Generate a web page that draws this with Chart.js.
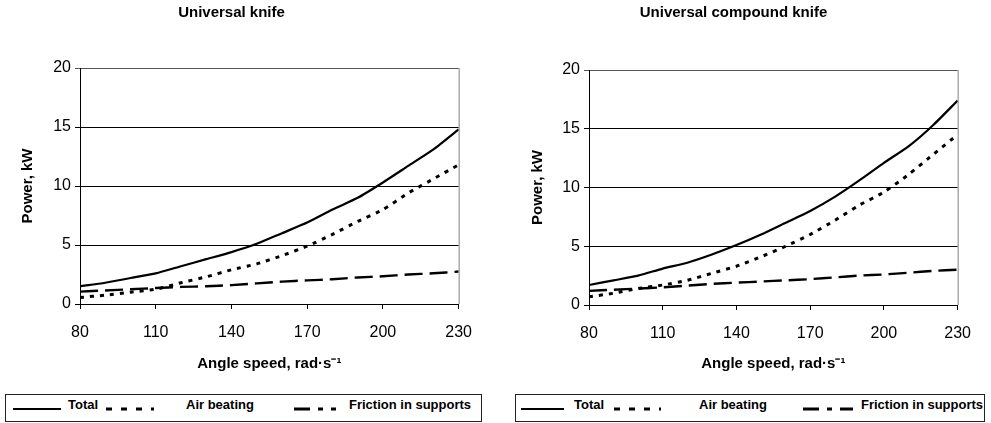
<!DOCTYPE html>
<html>
<head>
<meta charset="utf-8">
<title>Power vs angle speed</title>
<script src="https://cdn.jsdelivr.net/npm/chart.js@4.4.1/dist/chart.umd.min.js"></script>
<style>
  html, body { margin: 0; padding: 0; background: #fff; }
  body { width: 991px; height: 423px; position: relative; overflow: hidden; font-family: "Liberation Sans", Arial, sans-serif; }
  .chart-box { position: absolute; top: 0; height: 385px; }
  .legend-box { position: absolute; top: 394px; height: 28px; border: 1px solid #222; box-sizing: border-box; }
  .legend-box svg { position: absolute; top: 0; left: 0; }
  .legend-box span { position: absolute; top: 0; line-height: 20px; font-size: 13px; font-weight: bold; white-space: nowrap; color: #000; }
</style>
</head>
<body>
<div class="chart-box" style="left:0;width:486px"><canvas id="chart-left"></canvas></div>
<div class="chart-box" style="left:495px;width:490px"><canvas id="chart-right"></canvas></div>
<div class="legend-box" id="legend-left" style="left:5px;width:477px"></div>
<div class="legend-box" id="legend-right" style="left:515px;width:470px"></div>
<script>
// angle speed, rad/s
const angleSpeed = [80, 90, 100, 110, 120, 130, 140, 150, 160, 170, 180, 190, 200, 210, 220, 230];
const xTicks = [80, 110, 140, 170, 200, 230];
const yTicks = [0, 5, 10, 15, 20];
const seriesNames = ['Total', 'Air beating', 'Friction in supports'];

// Universal knife, kW
const knifeTotal    = [1.5, 1.8, 2.2, 2.6, 3.2, 3.8, 4.4, 5.1, 6.0, 6.9, 8.0, 9.0, 10.3, 11.7, 13.1, 14.8];
const knifeAir      = [0.55, 0.75, 1.0, 1.25, 1.8, 2.3, 2.9, 3.4, 4.1, 4.9, 5.9, 7.0, 8.0, 9.4, 10.6, 11.8];
const knifeFriction = [1.05, 1.15, 1.25, 1.35, 1.45, 1.5, 1.6, 1.75, 1.9, 2.0, 2.1, 2.25, 2.35, 2.5, 2.6, 2.75];

// Universal compound knife, kW
const compoundTotal    = [1.7, 2.1, 2.5, 3.1, 3.6, 4.3, 5.1, 6.0, 7.0, 8.0, 9.2, 10.6, 12.1, 13.5, 15.3, 17.4];
const compoundAir      = [0.7, 1.0, 1.4, 1.7, 2.1, 2.7, 3.3, 4.1, 5.0, 6.0, 7.2, 8.5, 9.6, 11.1, 12.8, 14.5];
const compoundFriction = [1.2, 1.3, 1.4, 1.5, 1.65, 1.8, 1.9, 2.0, 2.1, 2.2, 2.35, 2.5, 2.6, 2.75, 2.9, 3.0];

// line look per series: solid, dotted, dashed
const lineStyles = [
    { width: 2.2, dash: [] },
    { width: 3, dash: [4, 6] },
    { width: 2.4, dash: [18, 7] }
];
const legendDash = ['', '6 9', '16 8 5 8'];

Chart.defaults.font.family = '"Liberation Sans", Arial, sans-serif';
Chart.defaults.color = '#000';

// gray right edge of the plot area, like the original
const plotFrame = {
    id: 'plotFrame',
    beforeDatasetsDraw(chart) {
        const { ctx, chartArea: a } = chart;
        ctx.save();
        ctx.strokeStyle = '#808080';
        ctx.lineWidth = 1;
        ctx.beginPath();
        ctx.moveTo(a.right + 0.5, a.top);
        ctx.lineTo(a.right + 0.5, a.bottom);
        ctx.stroke();
        ctx.restore();
    }
};

function makeChart(canvasId, title, series, geom) {
    const ctx = document.getElementById(canvasId).getContext('2d');
    return new Chart(ctx, {
        type: 'line',
        data: {
            labels: angleSpeed,
            datasets: series.map((values, i) => ({
                label: seriesNames[i],
                data: values.map((v, j) => ({ x: angleSpeed[j], y: v })),
                borderColor: '#000',
                borderWidth: lineStyles[i].width,
                borderDash: lineStyles[i].dash,
                pointRadius: 0,
                tension: 0.2,
                fill: false
            }))
        },
        options: {
            responsive: true,
            maintainAspectRatio: false,
            animation: false,
            layout: { padding: { left: 0, right: geom.rightPad, top: 0, bottom: 0 } },
            plugins: {
                legend: { display: false },
                tooltip: { enabled: false },
                title: {
                    display: true,
                    text: title,
                    font: { size: 15, weight: 'bold' },
                    padding: { top: geom.titleTop, bottom: geom.titleBottom }
                }
            },
            scales: {
                x: {
                    type: 'linear',
                    min: 80,
                    max: 230,
                    afterBuildTicks: s => { s.ticks = xTicks.map(v => ({ value: v })); },
                    afterFit: s => { s.height = geom.xAxisHeight; },
                    grid: { drawOnChartArea: false, tickLength: 5, color: '#000' },
                    border: { color: '#000', width: 1 },
                    ticks: { font: { size: 16 }, padding: 14, maxRotation: 0 },
                    title: {
                        display: true,
                        text: 'Angle speed, rad·s⁻¹',
                        font: { size: 15, weight: 'bold' },
                        padding: { top: 0, bottom: 12 }
                    }
                },
                y: {
                    min: 0,
                    max: 20,
                    afterBuildTicks: s => { s.ticks = yTicks.map(v => ({ value: v })); },
                    afterFit: s => { s.width = geom.yAxisWidth; },
                    grid: {
                        color: c => c.tick && c.tick.value === 20 ? '#555' : '#000',
                        tickLength: 5,
                        lineWidth: 1
                    },
                    border: { color: '#000', width: 1 },
                    ticks: { font: { size: 16 }, padding: 4 },
                    title: {
                        display: true,
                        text: 'Power, kW',
                        font: { size: 15, weight: 'bold' },
                        padding: { top: geom.yTitlePad, bottom: 0 }
                    }
                }
            }
        },
        plugins: [plotFrame]
    });
}

makeChart('chart-left', 'Universal knife', [knifeTotal, knifeAir, knifeFriction],
    { rightPad: 23, titleTop: 4, titleBottom: 46, xAxisHeight: 81, yAxisWidth: 80, yTitlePad: 19 });
makeChart('chart-right', 'Universal compound knife', [compoundTotal, compoundAir, compoundFriction],
    { rightPad: 13, titleTop: 4, titleBottom: 48, xAxisHeight: 80, yAxisWidth: 94, yTitlePad: 34 });

// boxed legend under each chart: [line start, line end, text left] per series
function buildLegend(boxId, spots) {
    const box = document.getElementById(boxId);
    const svgNS = 'http://www.w3.org/2000/svg';
    const svg = document.createElementNS(svgNS, 'svg');
    svg.setAttribute('width', box.clientWidth);
    svg.setAttribute('height', 26);
    seriesNames.forEach((name, i) => {
        const line = document.createElementNS(svgNS, 'line');
        line.setAttribute('x1', spots[i][0]);
        line.setAttribute('x2', spots[i][1]);
        line.setAttribute('y1', 14);
        line.setAttribute('y2', 14);
        line.setAttribute('stroke', '#000');
        line.setAttribute('stroke-width', i === 0 ? 2 : 3);
        if (legendDash[i]) line.setAttribute('stroke-dasharray', legendDash[i]);
        svg.appendChild(line);
        const label = document.createElement('span');
        label.textContent = name;
        label.style.left = spots[i][2] + 'px';
        box.appendChild(label);
    });
    box.appendChild(svg);
}

buildLegend('legend-left', [[7, 55, 62], [100, 148, 180], [288, 330, 343]]);
buildLegend('legend-right', [[5, 48, 58], [98, 145, 183], [287, 337, 345]]);
</script>
</body>
</html>
